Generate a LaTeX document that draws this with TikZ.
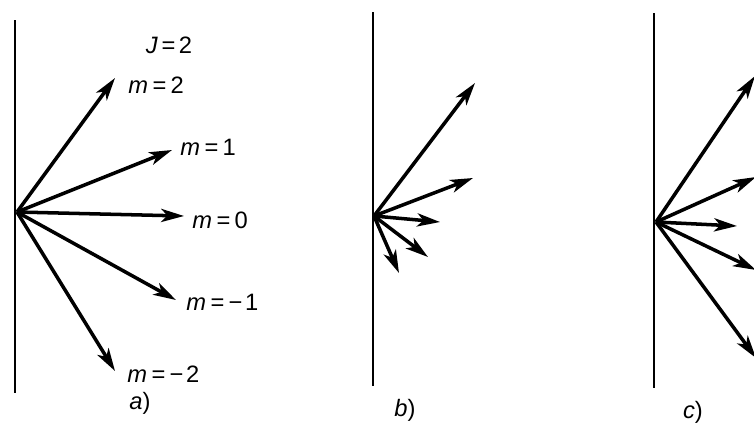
\documentclass[tikz,border=0pt]{standalone}
\usepackage{fontspec}
\setmainfont{Liberation Sans}
\usetikzlibrary{arrows.meta}
\newcommand{\mlab}[1]{\textit{m}\hspace{2.5pt}=\hspace{2.5pt}#1}
\newcommand{\mneg}[1]{\textit{m}\hspace{2.5pt}=\hspace{2.5pt}−\hspace{1.5pt}#1}

\begin{document}
\begin{tikzpicture}[x=0.02cm,y=-0.02cm,>={Stealth[length=13pt,width=7.5pt,inset=3.5pt]},
  font=\fontsize{13.5}{15}\selectfont]
\tikzset{wall/.style={line width=1.6pt},
  vec/.style={->,line width=2pt},
  lab/.style={anchor=west,inner sep=0pt}}
\clip (0,0) rectangle (754,444);

% a) J=2 with labelled m states
\draw[wall] (15,20)--(15,393);
\coordinate (oa) at (17,212);
\coordinate (a2) at (115,78);
\coordinate (a1) at (172,150);
\coordinate (a0) at (184,216);
\coordinate (am1) at (176,300);
\coordinate (am2) at (115,371);
\foreach \t in {a2,a1,a0,am1,am2} \draw[vec] (oa)--(\t);
\node (J) at (169,45) {\textit{J}\hspace{2pt}=\hspace{2pt}2};
\node[lab] (la2) at (128,85) {\mlab{2}};
\node[lab] (la1) at (180,147) {\mlab{1}};
\node[lab] (la0) at (192,220) {\mlab{0}};
\node[lab] (lam1) at (186,302) {\mneg{1}};
\node[lab] (lam2) at (127,374) {\mneg{2}};
\node (capa) at (140,403) {\textit{a})};

% b)
\draw[wall] (373,12)--(373,386);
\coordinate (ob) at (374,216);
\coordinate (b1) at (475,83);
\coordinate (b2) at (473,178);
\coordinate (b3) at (440,222);
\coordinate (b4) at (428,257);
\coordinate (b5) at (399,273);
\foreach \t in {b1,b2,b3,b4,b5} \draw[vec] (ob)--(\t);
\node (capb) at (405,410) {\textit{b})};

% c)
\draw[wall] (654,13)--(654,388);
\coordinate (oc) at (656,222);
\coordinate (c1) at (755,76);
\coordinate (c2) at (756,177);
\coordinate (c3) at (737,226);
\coordinate (c4) at (756,270);
\coordinate (c5) at (756,358);
\foreach \t in {c1,c2,c3,c4,c5} \draw[vec] (oc)--(\t);
\node (capc) at (693,412) {\textit{c})};
\end{tikzpicture}
\end{document}
